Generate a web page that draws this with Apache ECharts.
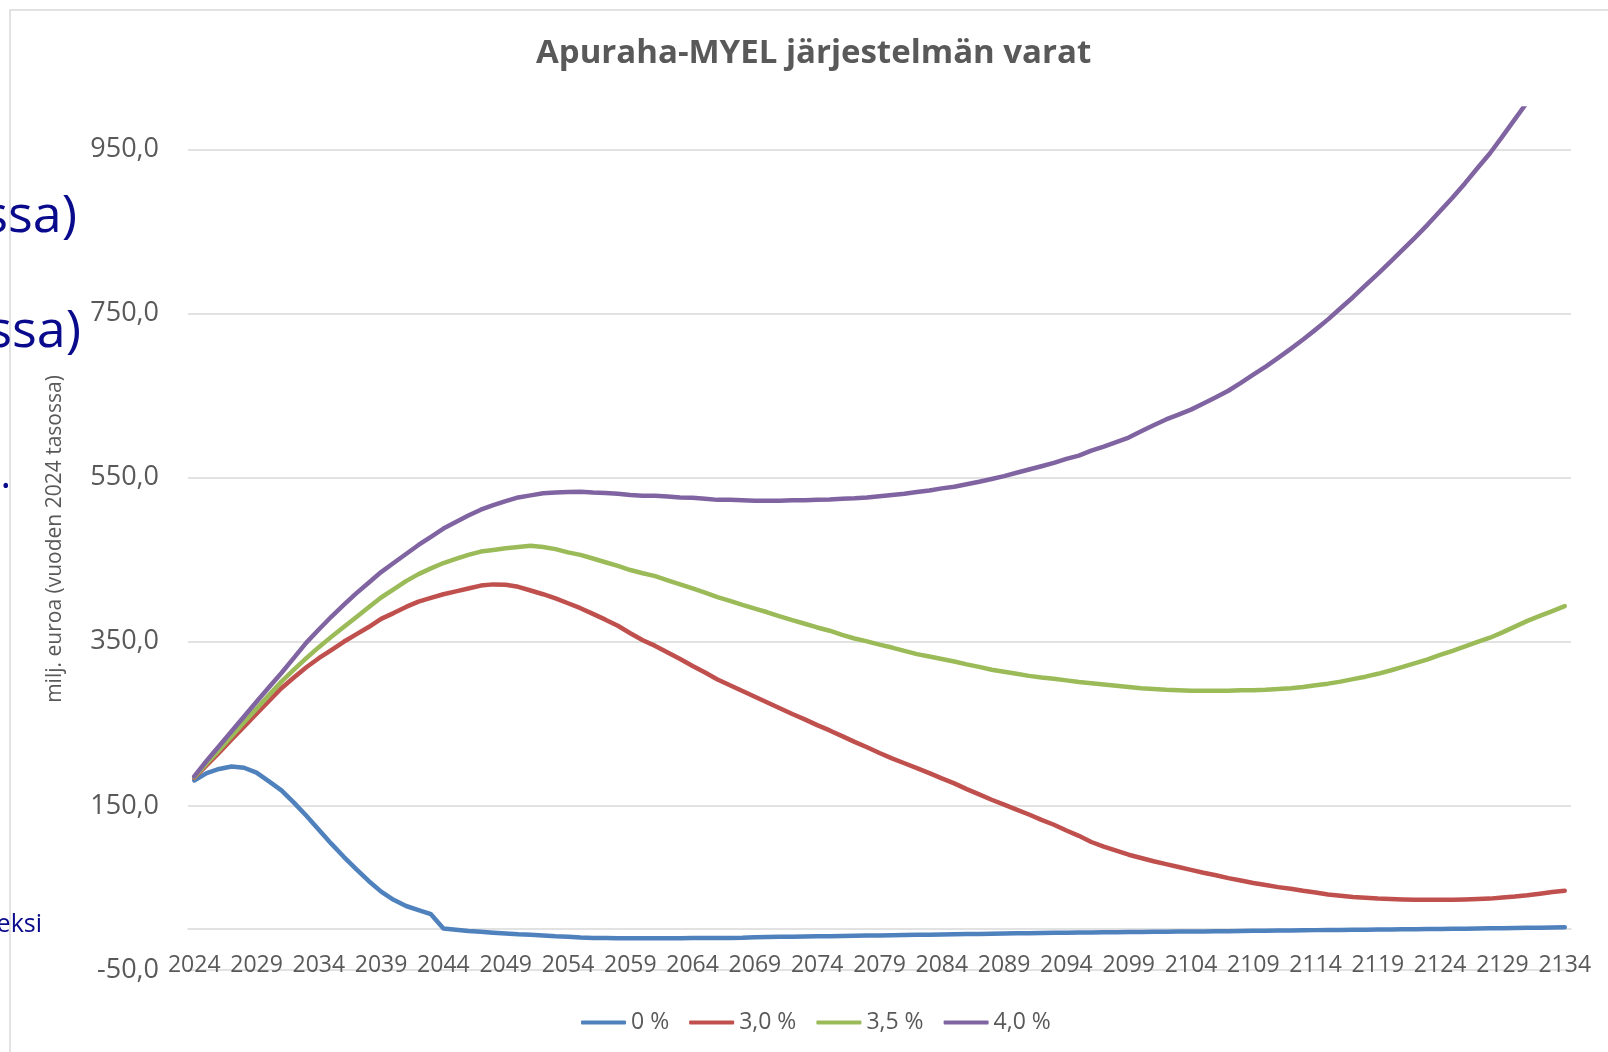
<!DOCTYPE html>
<html>
<head>
<meta charset="utf-8">
<title>Apuraha-MYEL järjestelmän varat</title>
<script src="https://cdn.jsdelivr.net/npm/echarts@6/dist/echarts.min.js"></script>
<style>
  html, body { margin: 0; padding: 0; background: #ffffff; }
  #chart { width: 1608px; height: 1052px; }
</style>
</head>
<body>
<div id="chart"></div>
<script>
// vuodet 2024 - 2134
const years = [];
for (let y = 2024; y <= 2134; y++) years.push(String(y));

const seriesNames = ['0 %', '3,0 %', '3,5 %', '4,0 %'];
const seriesColors = ['#4F81BD', '#C0504D', '#9BBB59', '#8064A2'];

// 0 %
const rate0 = [
  181, 190, 195, 198, 196.5, 190.5, 180, 169, 154, 138,
  121, 104, 88, 73, 58.5, 45.5, 35.5, 28, 23, 18,
  0.5, -1, -2.5, -3.5, -4.5, -5.5, -6.5, -7, -8, -9,
  -9.5, -10.5, -11, -11, -11.2, -11.2, -11.2, -11.2, -11.2, -11.2,
  -11, -11, -11, -11, -10.8, -10, -9.8, -9.6, -9.4, -9.2,
  -9, -8.8, -8.6, -8.3, -8, -7.8, -7.5, -7.3, -7.1, -6.9,
  -6.7, -6.5, -6.2, -6, -5.7, -5.5, -5.3, -5.1, -4.9, -4.7,
  -4.5, -4.4, -4.2, -4.1, -3.9, -3.8, -3.7, -3.5, -3.4, -3.2,
  -3.1, -3, -2.8, -2.7, -2.5, -2.3, -2.2, -2, -1.8, -1.6,
  -1.4, -1.2, -1.1, -0.9, -0.8, -0.6, -0.5, -0.3, -0.2, -0.1,
  0, 0.2, 0.4, 0.6, 0.8, 1, 1.2, 1.4, 1.6, 1.8,
  2
];

// 3,0 %
const rate30 = [
  184, 199.5, 215, 231, 246.5, 262.5, 278, 293.5, 306.5, 319,
  330, 340, 350, 359, 368, 378, 385, 392.5, 399, 403.5,
  408, 411.5, 415, 418.5, 420, 419.5, 417, 412.5, 408, 403,
  397, 391, 384, 377, 369.5, 360.5, 352, 345, 337, 329,
  320.5, 312.5, 304, 297, 290, 283, 276, 269, 262, 255.5,
  248.5, 242, 235, 228, 221.5, 214.5, 208, 202, 196, 190,
  183.5, 177.5, 170.5, 164, 157.5, 151.5, 145.5, 139.5, 133, 127,
  120, 113.5, 106, 100.5, 95.5, 90.5, 86.5, 82.5, 79, 75.5,
  72, 68.5, 65.5, 62, 59, 56, 53.5, 51, 49, 46.5,
  44.5, 42, 40.5, 39, 38, 37, 36.5, 36, 35.5, 35.5,
  35.5, 35.5, 36, 36.5, 37, 38.5, 39.5, 41, 43, 45,
  46.5
];

// 3,5 %
const rate35 = [
  185, 202, 218, 235, 252, 268.5, 285, 301.5, 316, 330,
  343.5, 356, 368, 380, 392, 404, 414, 424, 432.5, 439.5,
  446, 451, 456, 460, 462, 464, 465.5, 467, 465.5, 463,
  459, 456, 451.5, 447, 442.5, 437.5, 433.5, 430, 425, 420,
  415, 410, 404.5, 400, 395, 390.5, 386, 381, 376.5, 372,
  367.5, 363.5, 358.5, 354, 350.5, 346.5, 343, 339, 335, 332,
  329, 326, 322.5, 319.5, 316, 313.5, 311, 308.5, 306.5, 305,
  303, 301, 299.5, 298, 296.5, 295, 293.5, 292.5, 291.5, 291,
  290.5, 290.5, 290.5, 290.5, 291, 291, 291.5, 292.5, 293.5, 295,
  297, 299, 301.5, 304.5, 307.5, 311, 315, 319.5, 324, 328.5,
  334, 339, 344.5, 350, 355, 361.5, 368.5, 375.5, 381.5, 387.5,
  393.5
];

// 4,0 % (menee kuvan yläreunan yli vuoden 2130 jälkeen)
const rate40 = [
  186, 205, 223, 241, 259, 277, 294.5, 312, 330.5, 349,
  365, 380.5, 395, 409, 422, 435, 446, 457, 468, 478,
  488, 496, 504, 511, 516.5, 521.5, 526, 528.5, 531, 532,
  532.5, 533, 532, 531.5, 530.5, 529, 528, 528, 527, 526,
  525.5, 524.5, 523, 523, 522.5, 522, 522, 522, 522.5, 522.5,
  523, 523.5, 524.5, 525, 526, 527.5, 529, 530.5, 532.5, 534.5,
  537, 539, 542, 545, 548.5, 552, 556, 560, 564, 568,
  573, 577, 583, 588, 593.5, 599, 606.5, 614, 621, 627,
  633, 640.5, 648, 656, 665.5, 675.5, 685.5, 696, 707, 718.5,
  730.5, 743, 756.5, 770, 784.5, 798.5, 813, 828, 843, 858.5,
  875, 891.5, 909, 927.5, 945.5, 966, 987, 1008, null, null,
  null
];

const seriesData = [rate0, rate30, rate35, rate40];

const FONT = '"Open Sans", "Noto Sans", sans-serif';
const GREY_TEXT = '#595959';
const GRID_LINE = '#d9d9d9';
const NAVY = '#0a0a8c';

const chart = echarts.init(document.getElementById('chart'));

function navyText(text, x, y, size) {
  return {
    type: 'text',
    z: 100,
    x: x,
    y: y,
    style: {
      text: text,
      fontFamily: FONT,
      fontSize: size,
      fill: NAVY,
      align: 'right',
      verticalAlign: 'middle',
      textAlign: 'right',
      textVerticalAlign: 'middle'
    }
  };
}

const option = {
  animation: false,
  backgroundColor: '#ffffff',
  title: {
    text: 'Apuraha-MYEL järjestelmän varat',
    left: 531,
    top: 32,
    textStyle: {
      fontFamily: FONT,
      fontSize: 33,
      fontWeight: 'bold',
      color: GREY_TEXT
    }
  },
  legend: {
    data: seriesNames,
    left: 576,
    top: 1006,
    icon: 'roundRect',
    itemWidth: 45,
    itemHeight: 4,
    itemGap: 20,
    textStyle: {
      fontFamily: FONT,
      fontSize: 23,
      color: GREY_TEXT
    }
  },
  grid: {
    left: 188,
    right: 37,
    top: 108.5,
    bottom: 82,
    containLabel: false
  },
  xAxis: {
    type: 'category',
    data: years,
    boundaryGap: true,
    axisLine: {
      onZero: true,
      lineStyle: { color: GRID_LINE, width: 1.5 }
    },
    axisTick: { show: false },
    axisLabel: {
      interval: 4,
      // nimikkeet nollaviivan alle, kuten alkuperäisessä
      margin: -16,
      fontFamily: FONT,
      fontSize: 23,
      color: GREY_TEXT
    },
    splitLine: { show: false }
  },
  yAxis: {
    type: 'value',
    min: -50,
    max: 1000,
    interval: 200,
    axisLine: { show: false },
    axisTick: { show: false },
    axisLabel: {
      margin: 29,
      showMaxLabel: false,
      fontFamily: FONT,
      fontSize: 27,
      color: GREY_TEXT,
      formatter: function (v) {
        return v.toFixed(1).replace('.', ',');
      }
    },
    splitLine: {
      show: true,
      showMaxLine: false,
      lineStyle: { color: GRID_LINE, width: 1.5 }
    }
  },
  series: seriesNames.map(function (name, i) {
    return {
      name: name,
      type: 'line',
      data: seriesData[i],
      showSymbol: false,
      symbol: 'none',
      smooth: false,
      clip: true,
      color: seriesColors[i],
      lineStyle: {
        color: seriesColors[i],
        width: 4.5,
        cap: 'round',
        join: 'round'
      }
    };
  }),
  graphic: [
    {
      // kaavion reunus
      type: 'rect',
      z: -10,
      shape: { x: 10, y: 10, width: 1700, height: 1200 },
      style: { fill: 'none', stroke: GRID_LINE, lineWidth: 1.5 }
    },
    {
      type: 'text',
      x: 55,
      y: 539,
      rotation: Math.PI / 2,
      style: {
        text: 'milj. euroa (vuoden 2024 tasossa)',
        fontFamily: FONT,
        fontSize: 21,
        fill: GREY_TEXT,
        align: 'center',
        verticalAlign: 'middle',
        textAlign: 'center',
        textVerticalAlign: 'middle'
      }
    },
    // taustalla olevan dian tekstejä
    navyText('ssa)', 77, 217, 52),
    navyText('ossa)', 81, 332, 52),
    navyText('.', 11, 477, 40),
    navyText('eksi', 42, 925, 25)
  ]
};

chart.setOption(option);
</script>
</body>
</html>
